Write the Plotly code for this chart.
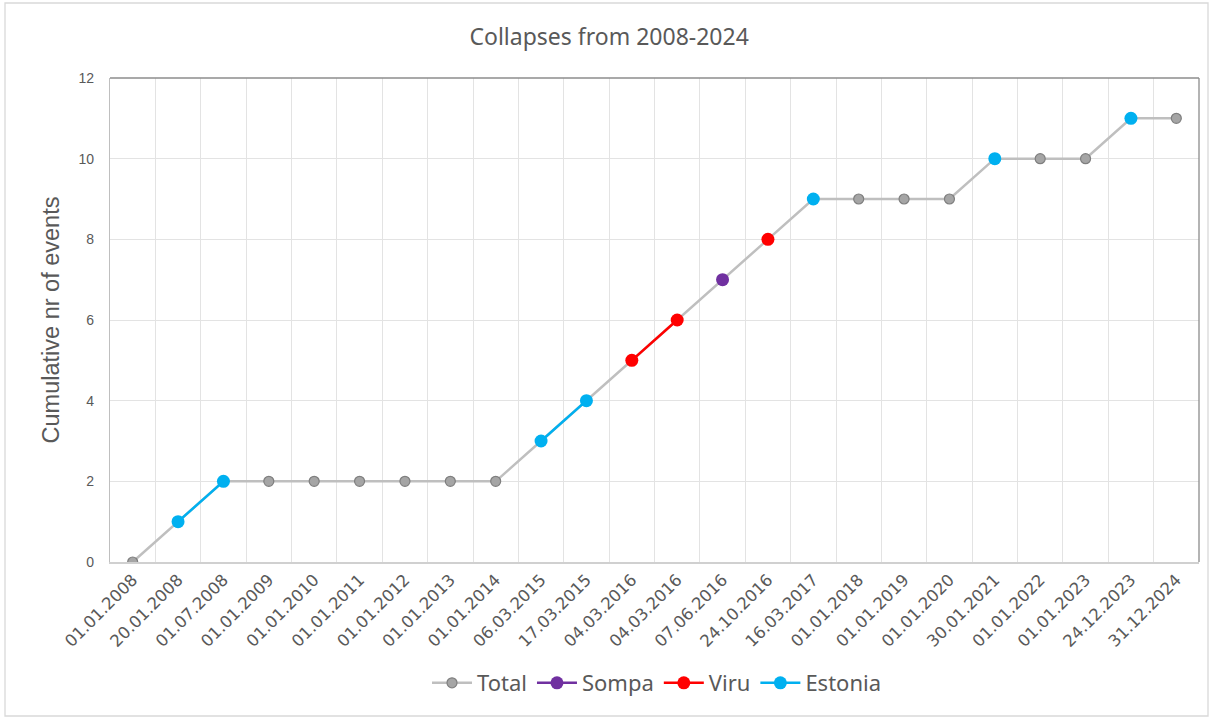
import plotly.graph_objects as go

# Event dates (category labels) and cumulative counts
dates = [
    "01.01.2008", "20.01.2008", "01.07.2008", "01.01.2009", "01.01.2010",
    "01.01.2011", "01.01.2012", "01.01.2013", "01.01.2014", "06.03.2015",
    "17.03.2015", "04.03.2016", "04.03.2016", "07.06.2016", "24.10.2016",
    "16.03.2017", "01.01.2018", "01.01.2019", "01.01.2020", "30.01.2021",
    "01.01.2022", "01.01.2023", "24.12.2023", "31.12.2024",
]
total = [0, 1, 2, 2, 2, 2, 2, 2, 2, 3, 4, 5, 6, 7, 8, 9, 9, 9, 9, 10, 10, 10, 11, 11]

# Per-site series (None = no event at that date)
sompa = [None] * 13 + [7] + [None] * 10
viru = [None] * 11 + [5, 6, None, 8] + [None] * 9
estonia = [None, 1, 2] + [None] * 6 + [3, 4] + [None] * 4 + [9] + [None] * 3 + [10, None, None, 11, None]

positions = list(range(len(dates)))

W, H = 1211, 718
L, R, T, B = 110, 12, 78, 156

fig = go.Figure()
fig.add_trace(go.Scatter(
    x=positions, y=total, name="Total", mode="lines+markers",
    line=dict(color="#BFBFBF", width=2.5),
    marker=dict(color="#A5A5A5", size=10, line=dict(color="#7F7F7F", width=1.2)),
))
fig.add_trace(go.Scatter(
    x=positions, y=sompa, name="Sompa", mode="lines+markers",
    line=dict(color="#7030A0", width=2.5), marker=dict(color="#7030A0", size=13),
))
fig.add_trace(go.Scatter(
    x=positions, y=viru, name="Viru", mode="lines+markers",
    line=dict(color="#FF0000", width=2.5), marker=dict(color="#FF0000", size=13),
))
fig.add_trace(go.Scatter(
    x=positions, y=estonia, name="Estonia", mode="lines+markers",
    line=dict(color="#00B0F0", width=2.5), marker=dict(color="#00B0F0", size=13),
))

pw = W - L - R
ph = H - T - B


def px_x(p):
    return (p - L) / pw


def px_y(p):
    return (H - B - p) / ph


shapes = [
    # outer chart border
    dict(type="rect", xref="paper", yref="paper",
         x0=px_x(5), x1=px_x(1208), y0=px_y(716), y1=px_y(3),
         line=dict(color="#D9D9D9", width=1.3), layer="below"),
    # plot-area frame: top and right edges
    dict(type="line", xref="paper", yref="paper", x0=0, x1=1, y0=1, y1=1,
         line=dict(color="#8C8C8C", width=1.3)),
    dict(type="line", xref="paper", yref="paper", x0=1, x1=1, y0=0, y1=1,
         line=dict(color="#8C8C8C", width=1.3)),
]

fig.update_layout(
    width=W, height=H,
    margin=dict(l=L, r=R, t=T, b=B),
    paper_bgcolor="white", plot_bgcolor="white",
    title=dict(text="Collapses from 2008-2024", x=0.503, xanchor="center",
               y=1 - 37 / H, yanchor="middle",
               font=dict(family="Noto Sans", size=23, color="#595959")),
    showlegend=True,
    legend=dict(orientation="h", x=px_x(657), xanchor="center",
                y=px_y(683), yanchor="middle",
                font=dict(family="Noto Sans", size=22, color="#595959"),
                itemwidth=40, tracegroupgap=0),
    shapes=shapes,
)

fig.update_xaxes(
    range=[-0.5, len(dates) - 0.5],
    tickmode="array", tickvals=positions, ticktext=dates,
    tickangle=-45, ticks="", showgrid=False,
    tickfont=dict(family="DejaVu Sans", size=16.5, color="#595959"),
    showline=True, linecolor="#D0D0D0", linewidth=1.5,
    zeroline=False,
    minor=dict(tickmode="array",
               tickvals=[p + 0.5 for p in positions[:-1]],
               showgrid=True, gridcolor="#E3E3E3", gridwidth=1.3, ticks=""),
)
fig.update_yaxes(
    range=[0, 12], tickmode="array", tickvals=[0, 2, 4, 6, 8, 10, 12],
    ticks="", ticklabelstandoff=12,
    showgrid=True, gridcolor="#E3E3E3", gridwidth=1.3,
    zeroline=False,
    showline=True, linecolor="#BFBFBF", linewidth=1.3,
    tickfont=dict(family="Liberation Sans", size=14, color="#595959"),
    title=dict(text="Cumulative nr of events", standoff=12,
               font=dict(family="Liberation Sans", size=23.5, color="#595959")),
)

fig.write_html("out.html")
